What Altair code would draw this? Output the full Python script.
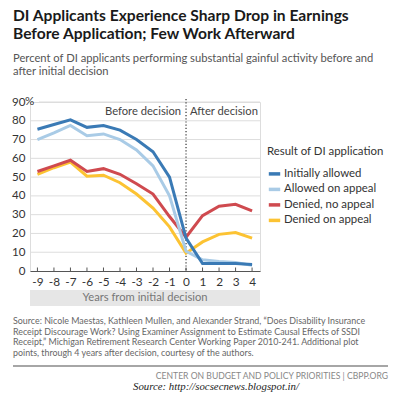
import altair as alt
import pandas as pd

years = [-9, -8, -7, -6, -5, -4, -3, -2, -1, 0, 1, 2, 3, 4]
initially_allowed = [75.5, 78, 80.5, 76.5, 77.5, 75, 70, 63.5, 50, 17.5, 4, 4, 4, 3.5]
allowed_on_appeal = [70, 73.5, 77.5, 72, 73, 70, 64.5, 56, 40, 10.5, 6, 5, 4.5, 3]
denied_no_appeal = [53, 56, 59, 53, 54.5, 51.5, 46.5, 41, 29, 18, 29.5, 34.5, 35.5, 32]
denied_on_appeal = [51.5, 55, 58, 50.5, 51, 47, 41, 33.5, 23.5, 9.5, 15.5, 19.5, 20.5, 17.5]

series_names = ["Initially allowed", "Allowed on appeal", "Denied, no appeal", "Denied on appeal"]
series_colors = ["#3a7ab5", "#a9cbe6", "#cf4a4f", "#fcc333"]
y_ticks = [0, 10, 20, 30, 40, 50, 60, 70, 80, 90]

title_lines = ["DI Applicants Experience Sharp Drop in Earnings", "Before Application; Few Work Afterward"]
subtitle_lines = ["Percent of DI applicants performing substantial gainful activity before and",
                  "after initial decision"]
source_lines = [
    "Source: Nicole Maestas, Kathleen Mullen, and Alexander Strand, \u201cDoes Disability Insurance",
    "Receipt Discourage Work? Using Examiner Assignment to Estimate Causal Effects of SSDI",
    "Receipt,\u201d Michigan Retirement Research Center Working Paper 2010-241. Additional plot",
    "points, through 4 years after decision, courtesy of the authors.",
]
org_text = "CENTER ON BUDGET AND POLICY PRIORITIES | CBPP.ORG"
web_source = "Source: http://socsecnews.blogspot.in/"

# layout (page pixels -> plot pixels)
OX, OY = 30, 102
W, H = 230, 169
def X(px):
    return px - OX
def Y(py):
    return py - OY

rows = []
for name, vals in [("Denied on appeal", denied_on_appeal), ("Denied, no appeal", denied_no_appeal),
                   ("Allowed on appeal", allowed_on_appeal), ("Initially allowed", initially_allowed)]:
    for yr, v in zip(years, vals):
        rows.append({"year": yr, "value": v, "series": name})
df = pd.DataFrame(rows)

xscale = alt.Scale(domain=[-9.45, 4.48], nice=False, zero=False)
yscale = alt.Scale(domain=[0, 90], nice=False)

one = alt.Data(values=[{}])
FS = 11.2

xaxis = alt.Axis(values=years, title=None, grid=False, ticks=False, domainColor="#555555",
                 labelFontSize=FS + 0.6, labelColor="#333333", labelPadding=5, labelFlush=False,
                 labelOverlap=False, labelBound=False, labelExpr="'' + datum.value")
yaxis = alt.Axis(values=y_ticks, title=None, grid=False, ticks=False, domain=False,
                 labelFontSize=FS + 0.4, labelColor="#333333", labelPadding=5,
                 labelOverlap=False, labelFlush=False, labelBound=False)

def txt(s, px, py, align="left", baseline="middle", **kw):
    return alt.Chart(one).mark_text(text=s, align=align, baseline=baseline, **kw).encode(
        x=alt.value(X(px)), y=alt.value(Y(py)))

grid = alt.Chart(pd.DataFrame({"v": y_ticks[1:-1]})).mark_rule(color="#dddddd", strokeWidth=1).encode(
    y=alt.Y("v:Q", scale=yscale, axis=yaxis), x=alt.value(0), x2=alt.value(W))
grid_top = alt.Chart(pd.DataFrame({"v": y_ticks[-1:]})).mark_rule(color="#dddddd", strokeWidth=1).encode(
    y=alt.Y("v:Q", scale=yscale, axis=yaxis), x=alt.value(9), x2=alt.value(W))

ticks = alt.Chart(pd.DataFrame({"year": years})).mark_rule(color="#555555", strokeWidth=1).encode(
    x=alt.X("year:Q", scale=xscale, axis=xaxis), y=alt.value(H - 3.5), y2=alt.value(H))

vline = alt.Chart(pd.DataFrame({"year": [0]})).mark_rule(color="#333333", strokeWidth=1.2, strokeDash=[1.2, 2]).encode(
    x=alt.X("year:Q", scale=xscale, axis=xaxis), y=alt.value(Y(99)), y2=alt.value(H))

lines = alt.Chart(df).mark_line(strokeWidth=3, strokeJoin="miter", strokeCap="butt").encode(
    x=alt.X("year:Q", scale=xscale, axis=xaxis),
    y=alt.Y("value:Q", scale=yscale, axis=yaxis),
    color=alt.Color("series:N", scale=alt.Scale(domain=series_names, range=series_colors),
                    legend=alt.Legend(orient="none", legendX=X(267), legendY=Y(146),
                                      title="Result of DI application", titleFontSize=FS + 0.2,
                                      titleFontWeight="normal", titleColor="#333333", titlePadding=9,
                                      labelFontSize=FS + 0.2, labelColor="#333333", symbolType="stroke",
                                      symbolStrokeWidth=3.5, symbolSize=130, rowPadding=0.5,
                                      labelOffset=2)),
    detail="series:N",
)

band = alt.Chart(one).mark_rect(color="#e6e6e6").encode(
    x=alt.value(0), x2=alt.value(W), y=alt.value(Y(290)), y2=alt.value(Y(306)))

sep = alt.Chart(one).mark_rule(color="#888888", strokeWidth=1.5).encode(
    x=alt.value(X(13)), x2=alt.value(X(388)), y=alt.value(Y(366)))

layers = [
    grid, grid_top, band, ticks, vline, lines,
    txt("%", 25, 102, fontSize=FS + 0.4, color="#333333"),
    txt("Before decision", 181, 112, align="right", fontSize=FS, color="#444444"),
    txt("After decision", 190, 112, fontSize=FS, color="#444444"),
    txt("Years from initial decision", 145, 298, align="center", fontSize=FS, color="#777777"),
    txt(title_lines, 13, 9, baseline="top", fontSize=15.6, fontWeight="bold", color="#1a1a1a", lineHeight=18),
    txt(subtitle_lines, 13, 53, baseline="top", fontSize=FS, color="#555555", lineHeight=13),
    txt(source_lines, 13, 317, baseline="top", fontSize=8.9, color="#666666", lineHeight=10.6),
    sep,
    txt(org_text, 388, 376, align="right", fontSize=8.6, color="#888888"),
    txt(web_source, 216, 387, align="center", fontSize=10.8, font="Liberation Serif", fontStyle="italic",
        color="#222222"),
]

chart = alt.layer(*layers).properties(
    width=W, height=H,
    autosize=alt.AutoSizeParams(type="none"),
    padding={"left": OX - 8, "top": OY - 8, "right": 382 - (OX - 8) - W, "bottom": 385 - (OY - 8) - H},
    background="white",
).configure_view(stroke=None).configure(font="Lato")

chart.save("out.html", embed_options={"renderer": "svg", "actions": False})
